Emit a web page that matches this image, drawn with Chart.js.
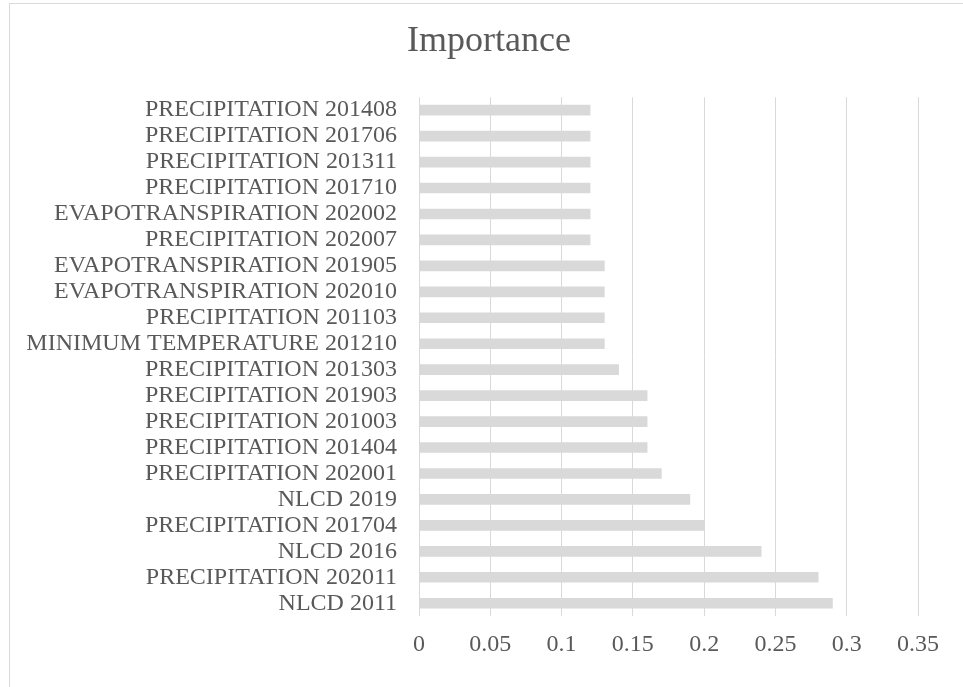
<!DOCTYPE html>
<html>
<head>
<meta charset="utf-8">
<script src="https://cdn.jsdelivr.net/npm/chart.js@4"></script>
<style>
  body { margin: 0; background: #fff; overflow: hidden; }
  #frame { position: absolute; left: 9px; top: 3px; width: 1000px; height: 720px; border: 1px solid #d9d9d9; }
  #wrap { position: absolute; left: 0; top: 0; width: 963px; height: 687px; }
</style>
</head>
<body>
<div id="frame"></div>
<div id="wrap"><canvas id="chart-importance" width="963" height="687"></canvas></div>
<script>
//---------------------data----------------------
var categories = [
    "PRECIPITATION 201408",
    "PRECIPITATION 201706",
    "PRECIPITATION 201311",
    "PRECIPITATION 201710",
    "EVAPOTRANSPIRATION 202002",
    "PRECIPITATION 202007",
    "EVAPOTRANSPIRATION 201905",
    "EVAPOTRANSPIRATION 202010",
    "PRECIPITATION 201103",
    "MINIMUM TEMPERATURE 201210",
    "PRECIPITATION 201303",
    "PRECIPITATION 201903",
    "PRECIPITATION 201003",
    "PRECIPITATION 201404",
    "PRECIPITATION 202001",
    "NLCD 2019",
    "PRECIPITATION 201704",
    "NLCD 2016",
    "PRECIPITATION 202011",
    "NLCD 2011"
];
var importance = [0.12, 0.12, 0.12, 0.12, 0.12, 0.12, 0.13, 0.13, 0.13, 0.13,
                  0.14, 0.16, 0.16, 0.16, 0.17, 0.19, 0.2, 0.24, 0.28, 0.29];
var xTickLabels = ["0", "0.05", "0.1", "0.15", "0.2", "0.25", "0.3", "0.35"];

//---------------------chart----------------------
var font_family = "'Liberation Serif', 'Times New Roman', serif";
var text_color = '#595959';

var ctx = document.getElementById('chart-importance').getContext('2d');
var chart_importance = new Chart(ctx, {
    type: 'bar',
    data: {
        labels: categories,
        datasets: [{
            label: 'Importance',
            data: importance,
            backgroundColor: '#d9d9d9',
            borderWidth: 0,
            barThickness: 10
        }]
    },
    options: {
        indexAxis: 'y',
        responsive: false,
        animation: false,
        layout: {
            padding: { left: 15, right: 0, top: 0, bottom: 14 }
        },
        plugins: {
            legend: { display: false },
            tooltip: { enabled: false },
            title: {
                display: true,
                text: 'Importance',
                color: text_color,
                font: { family: font_family, size: 36, weight: 'normal', lineHeight: 1.2 },
                padding: { top: 20, bottom: 34 }
            }
        },
        scales: {
            x: {
                min: 0,
                max: 0.35,
                grid: { color: '#d9d9d9', lineWidth: 1, drawTicks: false },
                border: { display: false },
                ticks: {
                    stepSize: 0.05,
                    padding: 14,
                    color: text_color,
                    font: { family: font_family, size: 24 },
                    callback: function (v, i) { return xTickLabels[i]; }
                }
            },
            y: {
                grid: { display: false, drawTicks: false },
                border: { display: false },
                afterFit: function (scale) { scale.width = 404; },
                ticks: {
                    padding: 22,
                    autoSkip: false,
                    color: text_color,
                    font: { family: font_family, size: 24 }
                }
            },
            // empty right axis, just keeps the plot edge at 0.35 like the picture
            yRight: {
                type: 'linear',
                axis: 'y',
                position: 'right',
                grid: { display: false, drawTicks: false },
                border: { display: false },
                ticks: { display: false },
                afterFit: function (scale) { scale.width = 45; }
            }
        }
    }
});
</script>
</body>
</html>
